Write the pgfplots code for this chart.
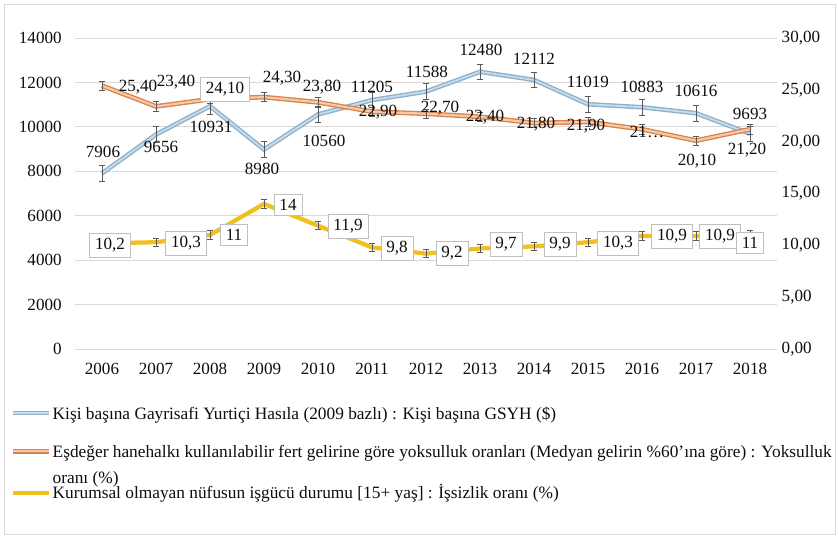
\documentclass[border=0pt]{standalone}
\usepackage{fontspec}
\setmainfont{Liberation Serif}
\usepackage{pgfplots}
\usepackage{pgfplotstable}
\pgfplotsset{compat=1.18}

\definecolor{bluein}{HTML}{C5DCEC}
\definecolor{blueout}{HTML}{8DB0CB}
\definecolor{orin}{HTML}{F7C9A6}
\definecolor{orout}{HTML}{D8834E}
\definecolor{yel}{HTML}{F2C01E}
\definecolor{gridc}{HTML}{D9D9D9}
\definecolor{errc}{HTML}{595959}
\definecolor{boxc}{HTML}{BFBFBF}
\definecolor{txt}{HTML}{0D0D0D}

% x = year index (0 = 2006), offsets of labels in px
\pgfplotstableread{
x y lab dx dy bx
0 7906 7906 1 21 0
1 9656 9656 5 -12.5 0
2 10931 10931 1 -21 0
3 8980 8980 -2 -19 0
4 10560 10560 6 -26 0
5 11205 11205 0 13 0
6 11588 11588 1 20 0
7 12480 12480 1 22 0
8 12112 12112 0 21 0
9 11019 11019 0 22 0
10 10883 10883 0 20 0
11 10616 10616 0 22 0
12 9693 9693 0 20 0
}\gsyh

\pgfplotstableread{
x y lab dx dy bx
0 25.4 25,40 36 -1 0
1 23.4 23,40 20 24 0
2 24.1 24,10 15 10 1
3 24.3 24,30 18 19 0
4 23.8 23,80 4 15 0
5 22.9 22,90 6 -1 0
6 22.7 22,70 14 6 0
7 22.4 22,40 5 0 0
8 21.8 21,80 2 -1 0
9 21.9 21,90 -2 -4 0
10 21.2 21… 5 -3 0
11 20.1 20,10 1 -20 0
12 21.2 21,20 -3 -21 0
}\yoks

\pgfplotstableread{
x y lab dx dy bx
0 10.2 10,2 8 -2 1
1 10.3 10,3 30 -1 1
2 11 11 24 0 1
3 14 14 24 -1 1
4 11.9 11,9 30 -1 1
5 9.8 9,8 25 -1 1
6 9.2 9,2 26 0 1
7 9.7 9,7 26 4 1
8 9.9 9,9 26 2 1
9 10.3 10,3 30 -1 1
10 10.9 10,9 30 0 1
11 10.9 10,9 24 0 1
12 11 11 0 -8 1
}\issiz

\pgfplotsset{
  common/.style={
    at={(56.25pt,-261.75pt)}, anchor=south west,
    scale only axis, width=526.5pt, height=233.25pt,
    xmin=-0.5, xmax=12.5, clip=false,
    axis line style={draw=none}, major tick length=0pt,
    tick label style={font=\fontsize{12.8}{15}\selectfont, text=txt},
    /pgf/number format/assume math mode=true,
  },
  ebar/.style={
    error bars/.cd, y dir=both, y fixed=#1, error mark=|,
    error bar style={errc, line width=0.6pt},
    error mark options={errc, line width=0.6pt, mark size=2.6pt},
  },
  lbl/.style={
    draw=none, forget plot, point meta=explicit symbolic, nodes near coords,
    nodes near coords style={anchor=center, xshift={0.75*\dx}, yshift={0.75*\dy},
      font=\fontsize{12.8}{15}\selectfont, text=txt, inner xsep=4pt, inner ysep=3.8pt,
      draw=boxc, fill=white, draw opacity=\bx, fill opacity=\bx, text opacity=1},
  },
}
\newcommand{\lowered}[2]{\raisebox{-#1}[\ht\strutbox][\dp\strutbox]{#2}}

\begin{document}
\begin{tikzpicture}
\path[use as bounding box] (0pt,0pt) rectangle (629.25pt,-402.75pt);
\draw[gridc, line width=0.7pt] (3pt,-3pt) rectangle (626.25pt,-400.5pt);

\begin{axis}[common,
  ymin=0, ymax=14000, ytick={0,2000,...,14000},
  scaled y ticks=false,
  xtick={0,...,12},
  xticklabels={2006,2007,2008,2009,2010,2011,2012,2013,2014,2015,2016,2017,2018},
  ymajorgrids, grid style={gridc, line width=0.6pt},
  yticklabel style={xshift=-6.5pt},
  xticklabel style={yshift=-7pt},
  /pgf/number format/1000 sep={},
]
\addplot[blueout, line width=3.4pt, forget plot] table[x=x,y=y]{\gsyh};
\addplot[bluein, line width=1.4pt, forget plot, ebar=350] table[x=x,y=y]{\gsyh};
\addplot[lbl,
  visualization depends on={\thisrow{dx}\as\dx},
  visualization depends on={\thisrow{dy}\as\dy},
  visualization depends on={\thisrow{bx}\as\bx}]
  table[x=x,y=y,meta=lab]{\gsyh};
\end{axis}

\begin{axis}[common,
  ymin=0, ymax=30, ytick={0,5,...,30},
  axis y line*=right, axis x line=none,
  yticklabel style={/pgf/number format/fixed, /pgf/number format/fixed zerofill,
    /pgf/number format/precision=2, /pgf/number format/use comma},
  legend style={at={(-0.0916,-0.1735)}, anchor=north west, draw=none, fill=none,
    font=\fontsize{13}{15.6}\selectfont, text=txt, row sep=0pt, inner sep=0pt,
    nodes={inner sep=1pt}, column sep=0pt},
  legend cell align=left,
  legend image code/.code={\draw[#1] (0pt,0pt) -- (27pt,0pt);},
]
\addlegendimage{draw=blueout, double=bluein, line width=0.9pt, double distance=1.4pt}
\addlegendentry{Kişi başına Gayrisafi Yurtiçi Hasıla (2009 bazlı) : Kişi başına GSYH (\$)\strut}
\addlegendimage{empty legend}
\addlegendentry{\strut}
\addlegendimage{draw=orout, double=orin, line width=0.9pt, double distance=1.5pt}
\addlegendentry{Eşdeğer hanehalkı kullanılabilir fert gelirine göre yoksulluk oranları (Medyan gelirin \%60'ına göre) : Yoksulluk\strut}
\addlegendimage{empty legend}
\addlegendentry{\lowered{5pt}{oranı (\%)\strut}}
\addlegendimage{yel, line width=3.2pt, yshift=-2.2pt}
\addlegendentry{\lowered{2.2pt}{Kurumsal olmayan nüfusun işgücü durumu [15+ yaş] : İşsizlik oranı (\%)\strut}}

\addplot[orout, line width=3.6pt, forget plot] table[x=x,y=y]{\yoks};
\addplot[orin, line width=1.6pt, forget plot, ebar=0.45] table[x=x,y=y]{\yoks};
\addplot[yel, line width=3.2pt, forget plot, ebar=0.4] table[x=x,y=y]{\issiz};

\addplot[lbl,
  visualization depends on={\thisrow{dx}\as\dx},
  visualization depends on={\thisrow{dy}\as\dy},
  visualization depends on={\thisrow{bx}\as\bx}]
  table[x=x,y=y,meta=lab]{\yoks};
\addplot[lbl,
  visualization depends on={\thisrow{dx}\as\dx},
  visualization depends on={\thisrow{dy}\as\dy},
  visualization depends on={\thisrow{bx}\as\bx}]
  table[x=x,y=y,meta=lab]{\issiz};
\end{axis}
\end{tikzpicture}
\end{document}
